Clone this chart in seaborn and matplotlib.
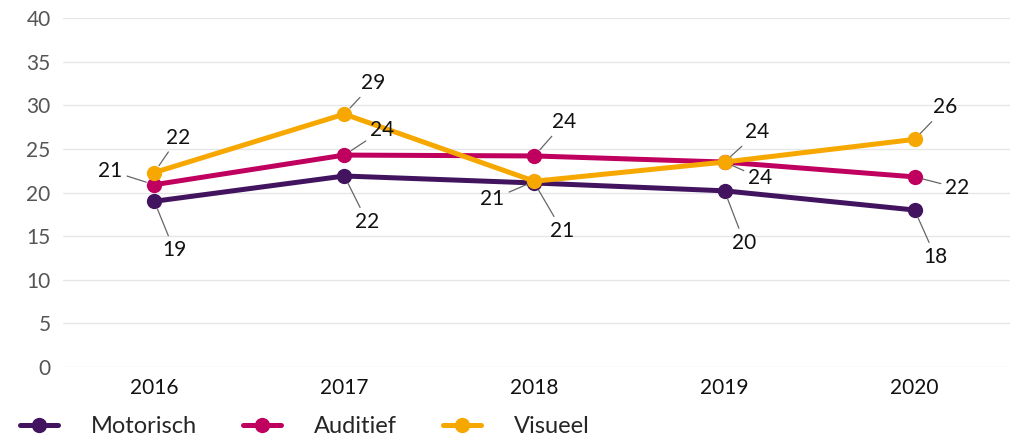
import pandas as pd
import seaborn as sns
import matplotlib.pyplot as plt

# Data
years = ['2016', '2017', '2018', '2019', '2020']
motorisch = [19.0, 21.9, 21.1, 20.2, 18.0]
auditief = [20.9, 24.3, 24.2, 23.5, 21.8]
visueel = [22.3, 29.0, 21.3, 23.5, 26.1]
series = ['Motorisch', 'Auditief', 'Visueel']

colors = {'Motorisch': '#42145f', 'Auditief': '#c0005f', 'Visueel': '#f7a800'}

# label offsets in pixels (dx, dy upwards) per series
offsets = {
    'Motorisch': [(20, -49), (23, -46), (28, -48), (20, -52), (21, -47)],
    'Auditief': [(-44, 14), (38, 25), (30, 34), (36, -16), (43, -11)],
    'Visueel': [(24, 35), (29, 31), (-42, -18), (33, 30), (31, 32)],
}

df = pd.DataFrame({
    'jaar': years * 3,
    'waarde': motorisch + auditief + visueel,
    'groep': [s for s in series for _ in years],
})

sns.set_style('white')
plt.rcParams['font.family'] = ['Lato', 'DejaVu Sans']

fig = plt.figure(figsize=(10.25, 4.43), dpi=100)
ax = fig.add_axes([0.0615, 0.1716, 0.9235, 0.7874])

sns.lineplot(data=df, x='jaar', y='waarde', hue='groep', palette=colors,
             marker='o', markersize=11, markeredgewidth=0, linewidth=3.6,
             ax=ax, zorder=3)

ax.set_ylim(0, 40)
ax.set_xlim(-0.48, 4.5)
ax.set_yticks(range(0, 41, 5))
ax.yaxis.grid(True, color='#e6e6e6', linewidth=1)
ax.xaxis.grid(False)
for s in ax.spines.values():
    s.set_visible(False)
ax.set_xlabel('')
ax.set_ylabel('')
ax.tick_params(axis='y', labelsize=15, labelcolor='#555555', length=0, pad=9)
ax.tick_params(axis='x', labelsize=15, labelcolor='#111111', length=0, pad=8)

for name, vals in zip(series, [motorisch, auditief, visueel]):
    for i, v in enumerate(vals):
        dx, dy = offsets[name][i]
        ax.annotate(f'{round(v):d}', xy=(i, v), xytext=(dx, dy),
                    textcoords='offset pixels', ha='center', va='center',
                    fontsize=15, color='#111111',
                    arrowprops=dict(arrowstyle='-', color='#666666', lw=0.9,
                                    shrinkA=1, shrinkB=6), zorder=4)

handles, labels = ax.get_legend_handles_labels()
ax.legend(handles, labels, loc='lower left', bbox_to_anchor=(-0.001, -0.035),
          bbox_transform=fig.transFigure, ncol=3, frameon=False,
          fontsize=17, handlelength=1.6, columnspacing=1.95, handletextpad=1.4)

fig.savefig('out.png', dpi=100)
